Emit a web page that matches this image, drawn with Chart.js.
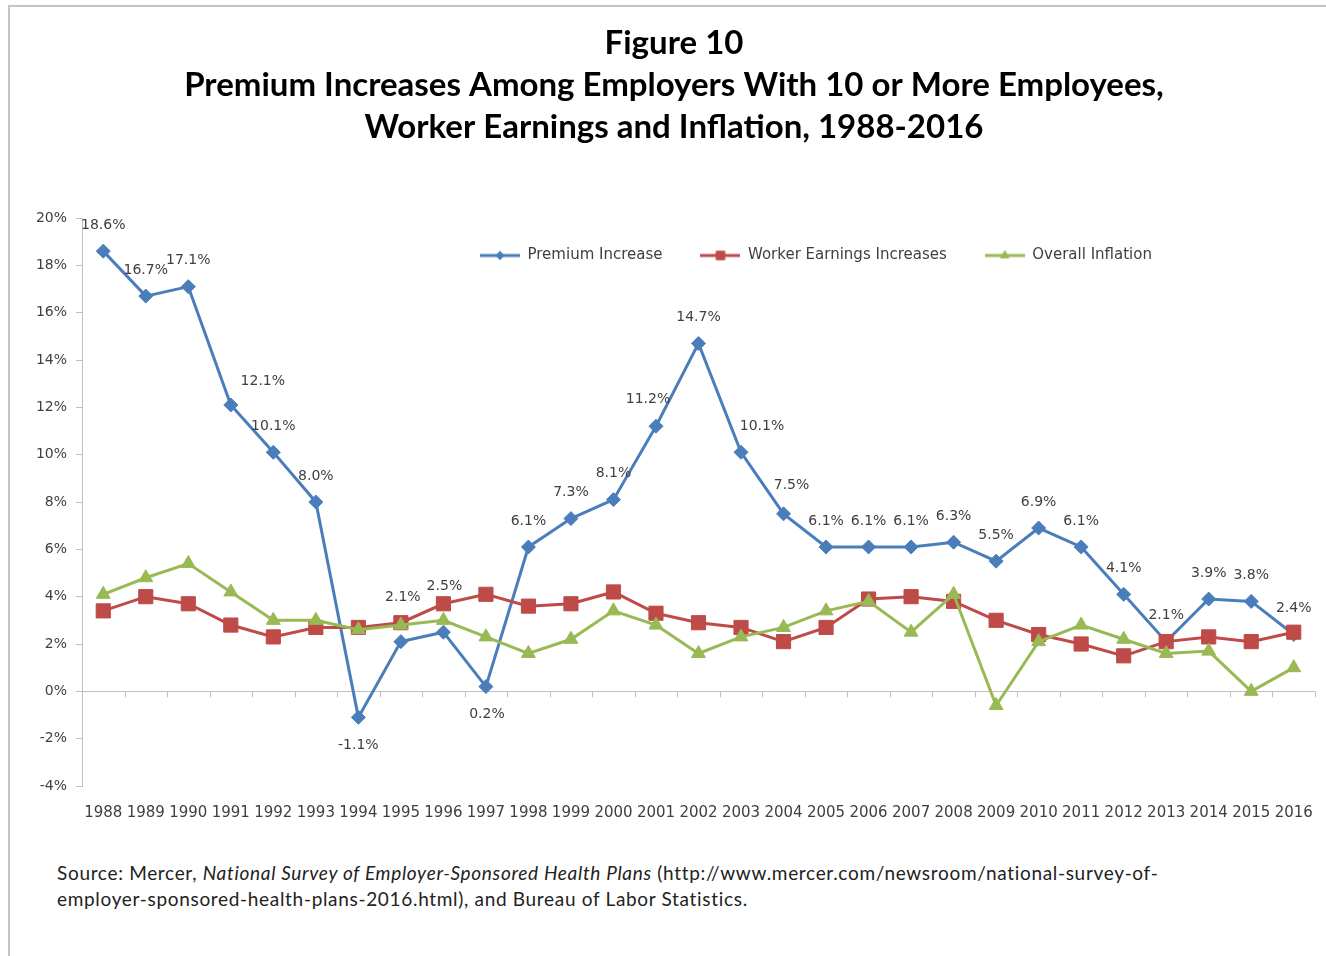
<!DOCTYPE html>
<html>
<head>
<meta charset="utf-8">
<title>Premium Increases, Worker Earnings and Inflation</title>
<script src="https://cdn.jsdelivr.net/npm/chart.js@4.4.0/dist/chart.umd.min.js"></script>
<style>
  body { margin: 0; background: #fff; }
  #frame { position: relative; width: 1326px; height: 956px; overflow: hidden; background: #fff; }
  #myChart { position: absolute; left: 0; top: 0; }
  .edge { position: absolute; background: #c4c4c4; }
  .edge.top { left: 8px; top: 5px; width: 1318px; height: 2px; }
  .edge.left { left: 8px; top: 5px; width: 2px; height: 951px; }
  .source {
    position: absolute; left: 57px; top: 860px;
    font-family: Lato, sans-serif; font-size: 19px; line-height: 26px;
    letter-spacing: 0.68px; color: #222; white-space: nowrap;
  }
</style>
</head>
<body>
<div id="frame">
  <div class="edge top"></div>
  <div class="edge left"></div>
  <canvas id="myChart" width="1326" height="840"></canvas>
  <div class="source">Source: Mercer, <i>National Survey of Employer-Sponsored Health Plans</i> (http://www.mercer.com/newsroom/national-survey-of-<br>employer-sponsored-health-plans-2016.html), and Bureau of Labor Statistics.</div>
</div>
<script>
const years = ['1988', '1989', '1990', '1991', '1992', '1993', '1994', '1995', '1996', '1997',
  '1998', '1999', '2000', '2001', '2002', '2003', '2004', '2005', '2006', '2007',
  '2008', '2009', '2010', '2011', '2012', '2013', '2014', '2015', '2016']

const premiumIncrease = [18.6, 16.7, 17.1, 12.1, 10.1, 8.0, -1.1, 2.1, 2.5, 0.2,
  6.1, 7.3, 8.1, 11.2, 14.7, 10.1, 7.5, 6.1, 6.1, 6.1,
  6.3, 5.5, 6.9, 6.1, 4.1, 2.1, 3.9, 3.8, 2.4]

const workerEarnings = [3.4, 4.0, 3.7, 2.8, 2.3, 2.7, 2.7, 2.9, 3.7, 4.1,
  3.6, 3.7, 4.2, 3.3, 2.9, 2.7, 2.1, 2.7, 3.9, 4.0,
  3.8, 3.0, 2.4, 2.0, 1.5, 2.1, 2.3, 2.1, 2.5]

const overallInflation = [4.1, 4.8, 5.4, 4.2, 3.0, 3.0, 2.6, 2.8, 3.0, 2.3,
  1.6, 2.2, 3.4, 2.8, 1.6, 2.3, 2.7, 3.4, 3.8, 2.5,
  4.1, -0.6, 2.1, 2.8, 2.2, 1.6, 1.7, 0.0, 1.0]

const seriesNames = ['Premium Increase', 'Worker Earnings Increases', 'Overall Inflation']
const yMin = -4
const yMax = 20
const yStep = 2

const BLUE = '#4a7ebb'
const RED = '#be4b48'
const GREEN = '#98b954'
const TEXT = '#404040'
const AXIS = '#bfbfbf'
const labelFont = '14px "DejaVu Sans"'

// little line-with-marker icons for the legend
const makeIcon = (color, style, radius) => {
    const c = document.createElement('canvas')
    c.width = 40
    c.height = 16
    const g = c.getContext('2d')
    g.strokeStyle = color
    g.lineWidth = 3
    g.beginPath()
    g.moveTo(0, 8)
    g.lineTo(40, 8)
    g.stroke()
    g.fillStyle = color
    g.lineWidth = 1
    Chart.helpers.drawPoint(g, {pointStyle: style, radius: radius, rotation: 0, borderWidth: 1}, 20, 8)
    return c
}

// tick marks along the zero line, between the categories
const zeroTicks = {
    id: 'zeroTicks',
    beforeDatasetsDraw(chart) {
        const x = chart.scales.x
        const y0 = chart.scales.y.getPixelForValue(0)
        const step = x.getPixelForValue(1) - x.getPixelForValue(0)
        const ctx = chart.ctx
        ctx.save()
        ctx.strokeStyle = AXIS
        ctx.lineWidth = 1
        ctx.beginPath()
        for (let i = 0; i < years.length; i++) {
            const px = Math.round(x.getPixelForValue(i) + step / 2) + 0.5
            ctx.moveTo(px, y0)
            ctx.lineTo(px, y0 + 6)
        }
        ctx.stroke()
        ctx.restore()
    }
}

// value labels on the premium line
const premiumLabels = {
    id: 'premiumLabels',
    afterDatasetsDraw(chart, args, opts) {
        const meta = chart.getDatasetMeta(0)
        const ctx = chart.ctx
        ctx.save()
        ctx.font = labelFont
        ctx.fillStyle = TEXT
        ctx.textAlign = 'center'
        ctx.textBaseline = 'middle'
        meta.data.forEach((pt, i) => {
            const nudge = opts.nudge[years[i]] || [0, -26]
            ctx.fillText(premiumIncrease[i].toFixed(1) + '%', pt.x + nudge[0], pt.y + nudge[1])
        })
        ctx.restore()
    }
}

// the legend takes (almost) no room in the layout, then gets moved into the plot
const legendPlacer = {
    id: 'legendPlacer',
    afterUpdate(chart, args, opts) {
        const lg = chart.legend
        lg.left = opts.left
        lg.top = opts.top
        lg.bottom = opts.top + 90
    }
}

const ctx = document.querySelector('#myChart').getContext('2d')

const myChart = new Chart(ctx, {
    type: 'line',
    data: {
        labels: years,
        datasets: [
            {
                label: seriesNames[0],
                data: premiumIncrease,
                borderColor: BLUE,
                backgroundColor: BLUE,
                borderWidth: 3,
                pointStyle: 'rectRot',
                pointRadius: 7,
                pointBorderWidth: 1,
                order: 3
            },
            {
                label: seriesNames[1],
                data: workerEarnings,
                borderColor: RED,
                backgroundColor: RED,
                borderWidth: 3,
                pointStyle: 'rect',
                pointRadius: 10,
                pointBorderWidth: 1,
                order: 2
            },
            {
                label: seriesNames[2],
                data: overallInflation,
                borderColor: GREEN,
                backgroundColor: GREEN,
                borderWidth: 3,
                pointStyle: 'triangle',
                pointRadius: 8,
                pointBorderWidth: 1,
                order: 1
            }
        ]
    },
    options: {
        responsive: false,
        animation: false,
        devicePixelRatio: 1,
        layout: {
            padding: {left: 24, right: 2, top: 0, bottom: 0}
        },
        scales: {
            x: {
                offset: true,
                afterFit: scale => {
                    scale.paddingLeft = 0
                    scale.paddingRight = 0
                },
                grid: {display: false, drawTicks: false},
                border: {display: false},
                ticks: {
                    autoSkip: false,
                    maxRotation: 0,
                    padding: 18,
                    color: TEXT,
                    font: {family: 'DejaVu Sans', size: 15}
                }
            },
            y: {
                min: yMin,
                max: yMax,
                afterFit: scale => { scale.width = 58 },
                border: {display: true, color: AXIS, width: 1},
                grid: {
                    color: c => (c.tick && c.tick.value === 0) ? AXIS : 'rgba(0,0,0,0)',
                    tickColor: AXIS,
                    tickLength: 6
                },
                ticks: {
                    stepSize: yStep,
                    padding: 9,
                    color: TEXT,
                    font: {family: 'DejaVu Sans', size: 14},
                    callback: v => v + '%'
                }
            }
        },
        plugins: {
            title: {
                display: true,
                text: [
                    'Figure 10',
                    'Premium Increases Among Employers With 10 or More Employees,',
                    'Worker Earnings and Inflation, 1988-2016'
                ],
                color: '#000',
                font: {family: 'Lato', weight: 'bold', size: 33, lineHeight: 42 / 33},
                padding: {top: 22, bottom: 69}
            },
            legend: {
                position: 'top',
                align: 'start',
                maxHeight: 1,
                labels: {
                    usePointStyle: true,
                    pointStyleWidth: 40,
                    padding: 38,
                    color: TEXT,
                    font: {family: 'DejaVu Sans', size: 15},
                    generateLabels: chart => chart.data.datasets.map((ds, i) => ({
                        text: ds.label,
                        fontColor: TEXT,
                        pointStyle: makeIcon(ds.borderColor, ds.pointStyle, ds.pointRadius * 0.6),
                        datasetIndex: i,
                        lineWidth: 0,
                        strokeStyle: ds.borderColor,
                        fillStyle: ds.borderColor
                    }))
                }
            },
            tooltip: {enabled: false},
            legendPlacer: {left: 442, top: 210},
            premiumLabels: {
                nudge: {
                    '1991': [32, -24],
                    '1994': [0, 28],
                    '1995': [2, -44],
                    '1996': [1, -46],
                    '1997': [1, 28],
                    '2001': [-8, -27],
                    '2003': [21, -26],
                    '2004': [8, -28]
                }
            }
        }
    },
    plugins: [zeroTicks, premiumLabels, legendPlacer]
})
</script>
</body>
</html>
